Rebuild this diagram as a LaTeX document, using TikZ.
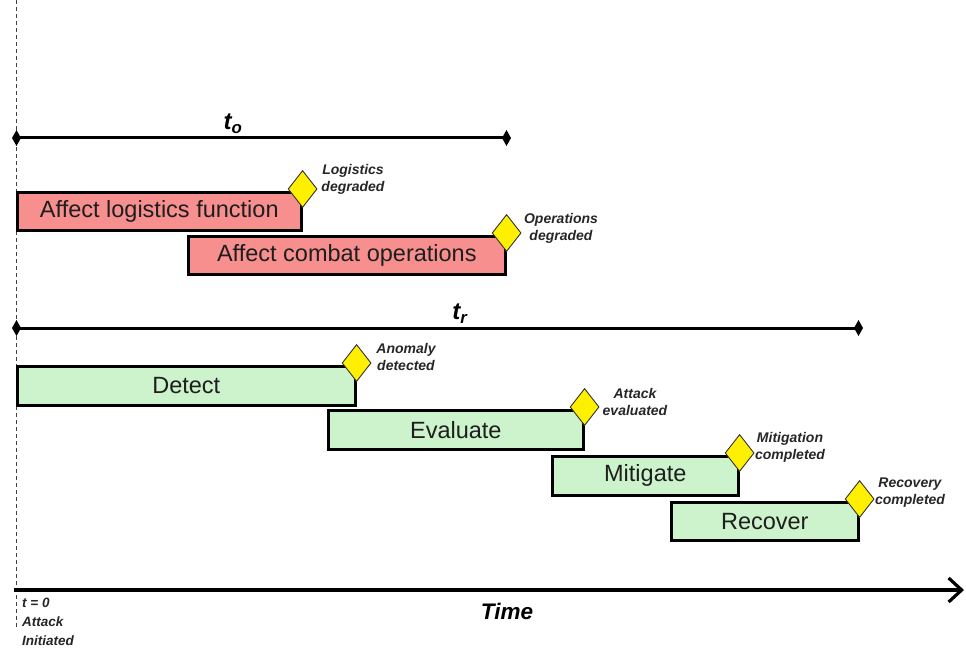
\documentclass[tikz,border=0pt]{standalone}
\usepackage{fontspec}
\setmainfont{Liberation Sans}
\usetikzlibrary{shapes.geometric,arrows.meta}
\definecolor{pinkfill}{RGB}{247,143,143}
\definecolor{greenfill}{RGB}{204,243,204}
\definecolor{mileyellow}{RGB}{255,240,0}
\definecolor{boxtext}{RGB}{30,30,30}
\tikzset{
  taskbox/.style={draw=black, line width=2.6pt, anchor=north west, inner sep=0pt,
    text=boxtext, font=\fontsize{23.5}{26}\selectfont},
  pinkbox/.style={taskbox, fill=pinkfill},
  greenbox/.style={taskbox, fill=greenfill},
  milestone/.style={diamond, draw=black!80, line width=0.9pt, fill=mileyellow,
    minimum width=29pt, minimum height=37pt, inner sep=0pt, yshift=2pt},
  mlabel/.style={align=center, font=\fontsize{14}{17}\selectfont\bfseries\itshape, text=black!85},
  spanaxis/.style={line width=3pt, {Diamond[length=9pt,width=16pt]}-{Diamond[length=9pt,width=16pt]}},
  spanlabel/.style={font=\fontsize{24}{26}\selectfont\bfseries\itshape}
}
\begin{document}
\begin{tikzpicture}[x=1pt,y=-1pt]
\useasboundingbox (0,0) rectangle (966,652);
% attack initiated line
\coordinate (dTop) at (16,0);
\coordinate (dBot) at (16,628);
\draw[line width=0.9pt, black!75, dash pattern=on 4pt off 3pt] (dTop) -- (dBot);

% t_o
\coordinate (oL) at (12,138);
\coordinate (oR) at (511,138);
\draw[spanaxis] (oL) -- (oR);
\node[spanlabel] (to) at (233,124) {t\textsubscript{o}};

% operational effects
\node[pinkbox, minimum width=284pt, minimum height=38pt] (log) at (16,191) {Affect logistics function};
\node[milestone] (dlog) at (log.north east) {};
\node[mlabel] (llog) at (353,179) {Logistics\\degraded};

\node[pinkbox, minimum width=317pt, minimum height=38pt] (cmb) at (187,235) {Affect combat operations};
\node[milestone] (dcmb) at (cmb.north east) {};
\node[mlabel] (lcmb) at (561,228) {Operations\\degraded};

% t_r
\coordinate (rL) at (12,328);
\coordinate (rR) at (863,328);
\draw[spanaxis] (rL) -- (rR);
\node[spanlabel] (tr) at (460,314) {t\textsubscript{r}};

% response
\node[greenbox, minimum width=338pt, minimum height=39pt] (det) at (16,365) {Detect};
\node[milestone] (ddet) at (det.north east) {};
\node[mlabel] (ldet) at (406,357) {Anomaly\\detected};

\node[greenbox, minimum width=255pt, minimum height=39pt] (eva) at (327,409) {Evaluate};
\node[milestone] (deva) at (eva.north east) {};
\node[mlabel] (leva) at (635,402) {Attack\\evaluated};

\node[greenbox, minimum width=186pt, minimum height=39pt] (mit) at (551,455) {Mitigate};
\node[milestone] (dmit) at (mit.north east) {};
\node[mlabel] (lmit) at (790,447) {Mitigation\\completed};

\node[greenbox, minimum width=187pt, minimum height=38pt] (rec) at (670,501) {Recover};
\node[milestone] (drec) at (rec.north east) {};
\node[mlabel] (lrec) at (910,493) {Recovery\\completed};

% time axis
\coordinate (tA) at (14,590);
\coordinate (tB) at (964,590);
\draw[line width=4pt, -{Straight Barb[length=13pt,width=24pt,line width=3.2pt]}] (tA) -- (tB);
\node[font=\fontsize{22.5}{24}\selectfont\bfseries\itshape] (time) at (507,611) {Time};
\node[anchor=north west, align=left, inner sep=0pt,
      font=\fontsize{13.5}{19}\selectfont\bfseries\itshape, text=black!85] (t0) at (22,598)
      {t = 0\\Attack\\Initiated};
\end{tikzpicture}
\end{document}
